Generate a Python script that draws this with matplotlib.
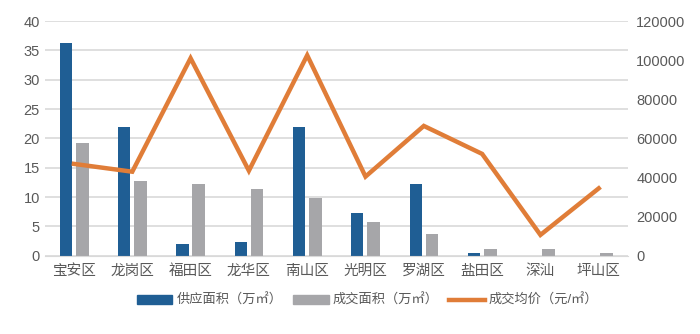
import numpy as np
import matplotlib.pyplot as plt
from matplotlib.patches import Patch
from matplotlib.lines import Line2D

plt.rcParams['font.family'] = ['Liberation Sans', 'Noto Sans CJK SC', 'DejaVu Sans']

# 各区数据
districts = ['宝安区', '龙岗区', '福田区', '龙华区', '南山区', '光明区', '罗湖区', '盐田区', '深汕', '坪山区']
supply = [36.3, 22.0, 2.1, 2.4, 21.9, 7.3, 12.3, 0.4, 0.0, 0.0]
deal = [19.3, 12.8, 12.2, 11.4, 9.9, 5.8, 3.7, 1.1, 1.1, 0.4]
price = [47000, 43000, 101000, 43500, 102500, 40500, 66400, 52100, 10700, 34500]

blue = '#1F5E94'
gray = '#A6A6A9'
orange = '#E07D38'
txt = '#595959'

x = np.arange(len(districts))
fig = plt.figure(figsize=(7, 3.34), dpi=100)
ax = fig.add_axes([0.064, 0.234, 0.833, 0.703])

ax.bar(x - 0.14, supply, width=0.21, color=blue, zorder=2)
ax.bar(x + 0.14, deal, width=0.22, color=gray, zorder=2)
ax.set_ylim(0, 40)
ax.set_yticks(range(0, 41, 5))
ax.set_xlim(-0.5, len(districts) - 0.5)
ax.set_xticks(x)
ax.set_xticklabels(districts)
ax.grid(axis='y', color='#D9D9D9', linewidth=1.2, zorder=0)
for s in ['top', 'right', 'left']:
    ax.spines[s].set_visible(False)
ax.spines['bottom'].set_color('#D9D9D9')
ax.tick_params(axis='both', length=0, labelsize=10.5, colors=txt)
ax.tick_params(axis='x', pad=6)

ax2 = ax.twinx()
ax2.plot(x, price, color=orange, linewidth=3.2, solid_joinstyle='miter', zorder=3)
ax2.set_ylim(0, 120000)
ax2.set_yticks(range(0, 120001, 20000))
for s in ax2.spines.values():
    s.set_visible(False)
ax2.tick_params(axis='y', length=0, labelsize=10.5, colors=txt, pad=6)

handles = [Patch(color=blue), Patch(color=gray), Line2D([0], [0], color=orange, linewidth=3.2)]
labels = ['供应面积（万㎡）', '成交面积（万㎡）', '成交均价（元/㎡）']
fig.legend(handles, labels, loc='center', bbox_to_anchor=(0.525, 0.1), ncol=3, frameon=False,
           fontsize=9.5, labelcolor=txt, handlelength=2.7, handleheight=0.7, columnspacing=0.8,
           handletextpad=0.3)

fig.savefig('out.png')
